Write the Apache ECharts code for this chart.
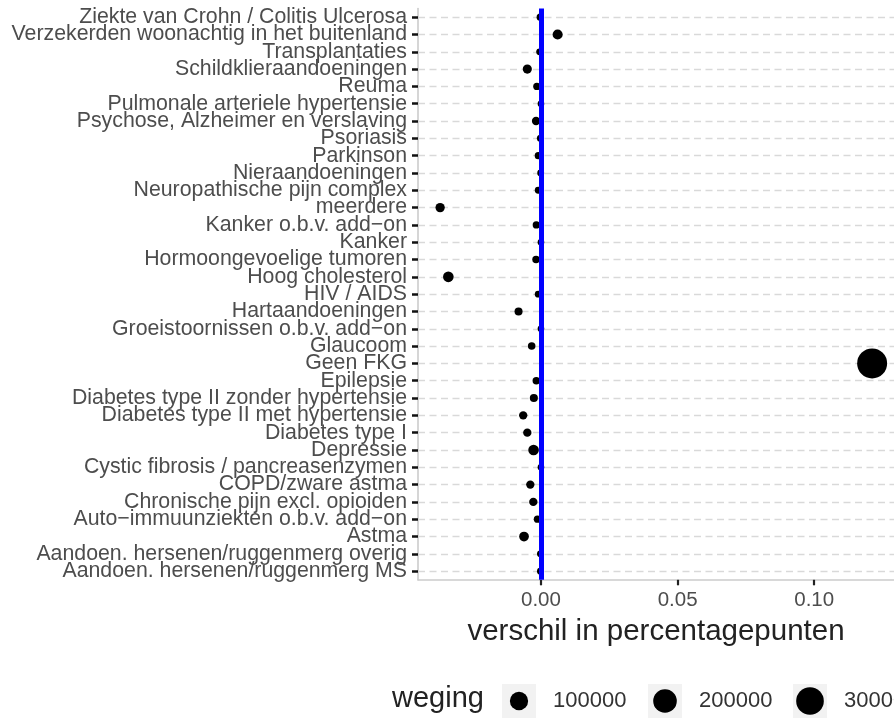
<!DOCTYPE html>
<html>
<head>
<meta charset="utf-8">
<script src="https://cdn.jsdelivr.net/npm/echarts@6/dist/echarts.min.js"></script>
<style>
html,body{margin:0;padding:0;background:#fff;}
#main{width:894px;height:724px;}
</style>
</head>
<body>
<div id="main"></div>
<script>
// categories bottom -> top
const categories = [
  "Aandoen. hersenen/ruggenmerg MS",
  "Aandoen. hersenen/ruggenmerg overig",
  "Astma",
  "Auto\u2212immuunziekten o.b.v. add\u2212on",
  "Chronische pijn excl. opioiden",
  "COPD/zware astma",
  "Cystic fibrosis / pancreasenzymen",
  "Depressie",
  "Diabetes type I",
  "Diabetes type II met hypertensie",
  "Diabetes type II zonder hypertensie",
  "Epilepsie",
  "Geen FKG",
  "Glaucoom",
  "Groeistoornissen o.b.v. add\u2212on",
  "Hartaandoeningen",
  "HIV / AIDS",
  "Hoog cholesterol",
  "Hormoongevoelige tumoren",
  "Kanker",
  "Kanker o.b.v. add\u2212on",
  "meerdere",
  "Neuropathische pijn complex",
  "Nieraandoeningen",
  "Parkinson",
  "Psoriasis",
  "Psychose, Alzheimer en verslaving",
  "Pulmonale arteriele hypertensie",
  "Reuma",
  "Schildklieraandoeningen",
  "Transplantaties",
  "Verzekerden woonachtig in het buitenland",
  "Ziekte van Crohn / Colitis Ulcerosa"
];
const verschil = [
  -0.0002, -0.0002, -0.0062, -0.0013, -0.0028, -0.0039, 0.0000, -0.0027,
  -0.0050, -0.0065, -0.0026, -0.0017, 0.1212, -0.0034, 0.0000, -0.0082,
  -0.0010, -0.0339, -0.0018, 0.0000, -0.0017, -0.0369, -0.0010, -0.0001,
  -0.0010, -0.0002, -0.0018, 0.0000, -0.0015, -0.0050, -0.0005, 0.0061,
  -0.0003
];
const weging = [
  1200, 1200, 11000, 1800, 5000, 5000, 800, 16000,
  5000, 5000, 4000, 2500, 366000, 2500, 800, 4000,
  1200, 16000, 2500, 800, 2000, 9000, 1200, 1200,
  1500, 1500, 5000, 800, 2000, 8000, 1000, 13000,
  1500
];
const xTicks = [0, 0.05, 0.10];
const legendValues = [100000, 200000, 300000];
const legendTitle = "weging";
const xTitle = "verschil in percentagepunten";

function sizeFn(w){ return 5.5 + 12.8 * Math.sqrt(w / 100000); }

const FONT = '"Liberation Sans", Arial, sans-serif';
const chart = echarts.init(document.getElementById('main'), null, {renderer:'canvas'});

const legendEls = [];
legendEls.push({type:'text', left:392, top:701 - 17, style:{text:legendTitle, font:'29px ' + FONT, fill:'#222', textVerticalAlign:'top'}});
const keyX = [502, 648, 793];
legendValues.forEach((v, i) => {
  legendEls.push({type:'rect', shape:{x:keyX[i], y:684, width:34, height:34}, style:{fill:'#f2f2f2'}, silent:true});
  legendEls.push({type:'circle', shape:{cx:keyX[i]+17, cy:701, r:sizeFn(v)/2}, style:{fill:'#000'}, silent:true});
  legendEls.push({type:'text', x:keyX[i]+51, y:701, style:{text:String(v), font:'22px ' + FONT, fill:'#333', textVerticalAlign:'middle'}, silent:true});
});

const idx = categories.map((c,i)=>i);

chart.setOption({
  animation:false,
  backgroundColor:'#fff',
  grid:{left:418, right:0, top:8.5, bottom:144.2, containLabel:false},
  xAxis:{
    type:'value', min:-0.0450, max:0.1292,
    name:xTitle, nameLocation:'middle', nameGap:37,
    nameTextStyle:{fontFamily:FONT, fontSize:29.5, color:'#222'},
    axisLine:{show:true, onZero:false, lineStyle:{color:'#cccccc', width:1.6}},
    axisTick:{show:true, customValues:xTicks, length:5.5, lineStyle:{color:'#222', width:2.2}},
    axisLabel:{customValues:xTicks, formatter:v=>v.toFixed(2), fontFamily:FONT, fontSize:20.5, color:'#4d4d4d', margin:10},
    splitLine:{show:false}
  },
  yAxis:{
    type:'category', data:categories, boundaryGap:true,
    axisLine:{show:true, onZero:false, lineStyle:{color:'#cccccc', width:1.6}},
    axisTick:{show:true, alignWithLabel:true, interval:0, length:6, lineStyle:{color:'#111', width:2.5}},
    axisLabel:{interval:0, hideOverlap:false, fontFamily:FONT, fontSize:21.3, color:'#4d4d4d', margin:11},
    splitLine:{show:false}
  },
  series:[
    {
      type:'line', data:[], z:1, silent:true,
      markLine:{z:1, silent:true, symbol:['none','none'], label:{show:false},
        lineStyle:{type:[7,4.5], color:'#d9d9d9', width:1.3},
        data:idx.map(i=>({yAxis:i}))}
    },
    {
      type:'scatter', z:3,
      data:categories.map((c,i)=>[verschil[i], i, weging[i]]),
      symbolSize:d=>sizeFn(d[2]),
      itemStyle:{color:'#000', opacity:1}
    },
    {
      type:'line', data:[], z:5, silent:true,
      markLine:{z:6, silent:true, symbol:['none','none'], label:{show:false},
        lineStyle:{type:'solid', color:'#0000ff', width:5},
        data:[{xAxis:0}]}
    }
  ],
  graphic:legendEls
});
</script>
</body>
</html>
